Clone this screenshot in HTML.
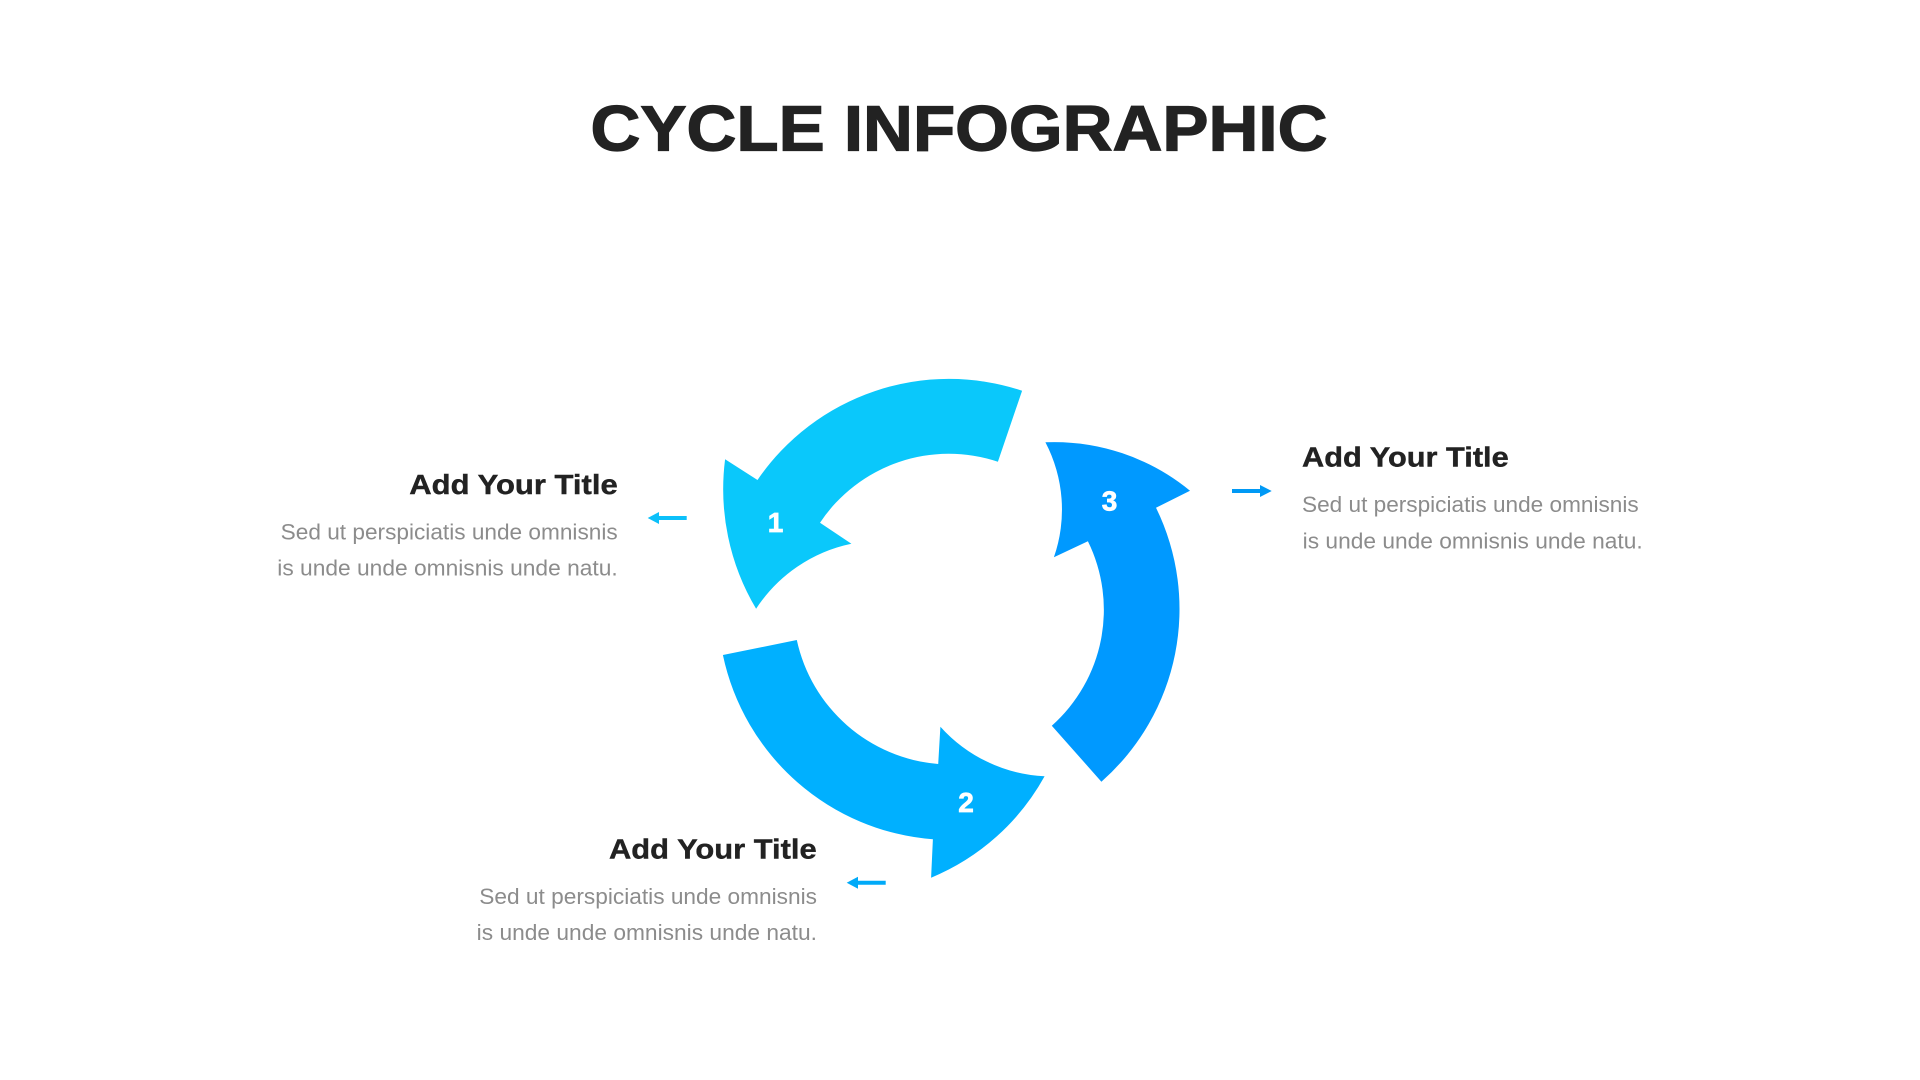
<!DOCTYPE html>
<html lang="en">
<head>
<meta charset="utf-8">
<title>Cycle Infographic</title>
<style>
html,body{margin:0;padding:0;background:#fff;}
svg{display:block;}
text{font-family:"Liberation Sans",sans-serif;}
.h{font-weight:700;font-size:28px;fill:#222;stroke:#222;stroke-width:.4px;}
.b{font-size:22px;fill:#8c8c8c;}
.n{font-weight:700;font-size:28px;fill:#fff;stroke:#fff;stroke-width:.7px;}
</style>
</head>
<body>
<svg width="1920" height="1080" viewBox="0 0 1920 1080" xmlns="http://www.w3.org/2000/svg">
<rect width="1920" height="1080" fill="#fff"/>

<text x="590.5" y="150.7" font-size="64" font-weight="700" fill="#222" stroke="#222" stroke-width="1.2" textLength="737" lengthAdjust="spacingAndGlyphs">CYCLE INFOGRAPHIC</text>

<!-- Arrow 1 -->
<path fill="#0ac8fb" d="M1022.1 390.7 A232 232 0 0 0 757.5 480 L725.1 459.3 A234 234 0 0 0 756.1 608.8 A150 150 0 0 1 851.4 543.7 L820 522.7 A155 155 0 0 1 997.9 461.7 Z"/>
<!-- Arrow 2 -->
<path fill="#00b0ff" d="M722.9 655 A233 233 0 0 0 932.9 839.3 L931.1 877.7 A230 230 0 0 0 1044.6 776.3 A150 150 0 0 1 940.4 726.7 L938.2 764 A158 158 0 0 1 796.8 640 Z"/>
<!-- Arrow 3 -->
<path fill="#0099ff" d="M1101.4 781.7 A230 230 0 0 0 1156 507.7 L1190 490.7 A214 214 0 0 0 1045.4 442.3 A145 145 0 0 1 1053.9 557.3 L1087.9 541.3 A155 155 0 0 1 1051.8 725.7 Z"/>

<text class="n" x="775.5" y="532" text-anchor="middle">1</text>
<text class="n" x="966" y="812" text-anchor="middle">2</text>
<text class="n" x="1109.5" y="510.5" text-anchor="middle">3</text>

<!-- Small arrows -->
<path fill="#0cc0fa" d="M686.7 516 H659 V512 L647.7 518 L659 524 V520 H686.7 Z"/>
<path fill="#00aaf8" d="M885.7 880.7 H858 V876.7 L846.7 882.7 L858 888.7 V884.7 H885.7 Z"/>
<path fill="#0099f5" d="M1232 489 H1260 V485 L1271.7 491 L1260 497 V493 H1232 Z"/>

<!-- Left block -->
<text class="h" x="409.3" y="494" textLength="208.4" lengthAdjust="spacingAndGlyphs">Add Your Title</text>
<text class="b" x="280.7" y="539.3" textLength="337" lengthAdjust="spacingAndGlyphs">Sed ut perspiciatis unde omnisnis</text>
<text class="b" x="277.3" y="575.3" textLength="340.4" lengthAdjust="spacingAndGlyphs">is unde unde omnisnis unde natu.</text>

<!-- Bottom block -->
<text class="h" x="609" y="858.7" textLength="207.7" lengthAdjust="spacingAndGlyphs">Add Your Title</text>
<text class="b" x="479.3" y="904" textLength="337.7" lengthAdjust="spacingAndGlyphs">Sed ut perspiciatis unde omnisnis</text>
<text class="b" x="476.7" y="940" textLength="340.3" lengthAdjust="spacingAndGlyphs">is unde unde omnisnis unde natu.</text>

<!-- Right block -->
<text class="h" x="1302" y="466.7" textLength="206.7" lengthAdjust="spacingAndGlyphs">Add Your Title</text>
<text class="b" x="1302" y="512" textLength="336.7" lengthAdjust="spacingAndGlyphs">Sed ut perspiciatis unde omnisnis</text>
<text class="b" x="1302.7" y="548.3" textLength="340" lengthAdjust="spacingAndGlyphs">is unde unde omnisnis unde natu.</text>
</svg>
</body>
</html>
